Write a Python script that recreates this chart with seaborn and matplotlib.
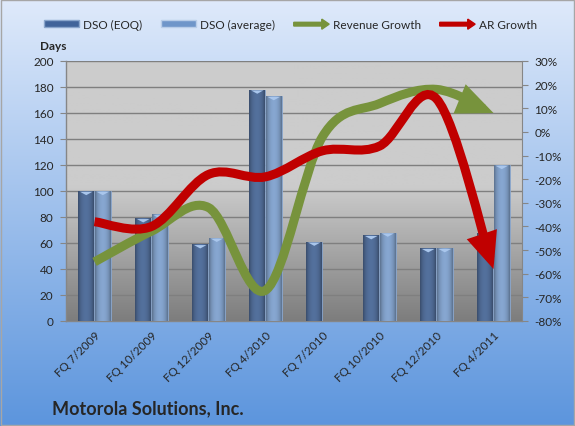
import numpy as np
import pandas as pd
import matplotlib
matplotlib.use("Agg")
import matplotlib.pyplot as plt
import matplotlib.patches as mpatches
from matplotlib.path import Path
from matplotlib.legend_handler import HandlerPatch
from matplotlib.ticker import FixedLocator
from matplotlib.colors import to_rgb
import seaborn as sns

# ---------------- data ----------------
categories = ["FQ 7/2009", "FQ 10/2009", "FQ 12/2009", "FQ 4/2010",
              "FQ 7/2010", "FQ 10/2010", "FQ 12/2010", "FQ 4/2011"]
dso_eoq = [100, 79, 59, 178, 61, 66, 56, 68]
dso_avg = [100, 82, 64, 173, np.nan, 68, 56, 120]
revenue_growth = [-55, -42, -32, -67, -2, 12, 18, 8]
ar_growth = [-38, -40, -18, -19, -8, -6, 14, -58]
left_ticks = list(range(0, 201, 20))
right_ticks = list(range(-80, 31, 10))

# ---------------- style ----------------
sns.set_style("white")
plt.rcParams["font.family"] = ["Lato", "DejaVu Sans"]

DARK = "#41649a"
LIGHT = "#6f96c9"
GREEN = "#77933c"
RED = "#c00000"

fig = plt.figure(figsize=(5.75, 4.27), dpi=100)

# figure background gradient
bg = fig.add_axes([0, 0, 1, 1], zorder=-10)
grad = np.linspace(0, 1, 256).reshape(-1, 1)
top = np.array([0xdf, 0xea, 0xfb]) / 255
bot = np.array([0x5c, 0x95, 0xdd]) / 255
img = top[None, None, :] * (1 - grad[..., None]) + bot[None, None, :] * grad[..., None]
bg.imshow(img, extent=[0, 1, 0, 1], aspect="auto", origin="upper")
bg.set_xlim(0, 1); bg.set_ylim(0, 1)
bg.axis("off")
bg.add_patch(mpatches.Rectangle((0.001, 0.003), 0.997, 0.995, fill=False,
                                edgecolor="#a6a6a6", lw=1.0, transform=bg.transAxes))

ax = fig.add_axes([66 / 575, 1 - 322 / 427, (522 - 66) / 575, (322 - 62) / 427])

# plot area gray gradient
g = np.linspace(0, 1, 256)
shade = np.where(g < 0.48, 0.80, 0.80 - (g - 0.48) / 0.52 * 0.31)
pimg = np.repeat(shade[:, None, None], 3, axis=2)
ax.imshow(pimg, extent=[0, 1, 0, 1], transform=ax.transAxes, aspect="auto",
          origin="upper", zorder=0)

df = pd.DataFrame({
    "cat": categories * 2,
    "DSO": dso_eoq + dso_avg,
    "series": ["DSO (EOQ)"] * len(categories) + ["DSO (average)"] * len(categories),
})
sns.barplot(data=df, x="cat", y="DSO", hue="series", palette=[DARK, LIGHT],
            width=0.58, gap=0.06, ax=ax, legend=False, errorbar=None,
            edgecolor="#8aa6cc", linewidth=0.6, zorder=3)

# soft horizontal shading on each bar (cosmetic)
xg = np.linspace(0, 1, 64)
prof = 0.78 + 0.32 * np.sin(np.pi * np.clip(xg * 1.1 - 0.05, 0, 1)) ** 0.6
for bar in list(ax.patches):
    h = bar.get_height()
    if not np.isfinite(h) or h <= 0:
        continue
    base = np.array(to_rgb(bar.get_facecolor()))
    cols = np.clip(base[None, :] * prof[:, None], 0, 1)[None, :, :]
    x0 = bar.get_x(); w = bar.get_width()
    im = ax.imshow(cols, extent=[x0, x0 + w, 0, h], aspect="auto",
                   zorder=3.5, origin="lower")
    im.set_clip_path(bar)
    # bevel highlight at top
    ax.fill([x0 + w * 0.1, x0 + w * 0.9, x0 + w * 0.5],
            [h - 0.6, h - 0.6, h - 3.2], color="#a9c6ec", zorder=3.6, lw=0)

ax.set_xlim(-0.5, len(categories) - 0.5)
ax.set_ylim(0, 200)
ax.set_yticks(left_ticks)
ax.set_yticklabels([str(t) for t in left_ticks], fontsize=8.5)
ax.yaxis.grid(True, color="#7f7f7f", lw=1.0, zorder=1)
ax.set_axisbelow(True)
ax.set_xlabel("")
ax.set_ylabel("")
ax.set_xticks(range(len(categories)))
ax.set_xticklabels(categories, rotation=45, ha="right", rotation_mode="anchor",
                   fontsize=8.5)
ax.tick_params(axis="x", which="major", length=0, pad=6)
ax.xaxis.set_minor_locator(FixedLocator(np.arange(-0.5, len(categories), 1.0)))
ax.tick_params(axis="x", which="minor", length=4, color="#868686", direction="out")
ax.tick_params(axis="y", length=4, color="#868686", direction="out", pad=5)
for s in ["top", "right"]:
    ax.spines[s].set_visible(False)
for s in ["left", "bottom"]:
    ax.spines[s].set_color("#868686")
    ax.spines[s].set_linewidth(1.0)

# twin axis for growth lines
ax2 = ax.twinx()
ax2.set_ylim(-80, 30)
ax2.set_yticks(right_ticks)
ax2.set_yticklabels([f"{t}%" for t in right_ticks], fontsize=8.5)
ax2.tick_params(axis="y", length=4, color="#868686", direction="out", pad=5)
ax2.grid(False)
ax2.patch.set_visible(False)
for s in ["top", "left", "bottom"]:
    ax2.spines[s].set_visible(False)
ax2.spines["right"].set_color("#868686")


def smooth_path(xs, ys):
    pts = np.column_stack([xs, ys]).astype(float)
    n = len(pts)
    verts = [pts[0]]
    codes = [Path.MOVETO]
    for i in range(n - 1):
        p0 = pts[i - 1] if i > 0 else pts[i]
        p1, p2 = pts[i], pts[i + 1]
        p3 = pts[i + 2] if i + 2 < n else pts[i + 1]
        verts += [p1 + (p2 - p0) / 6, p2 - (p3 - p1) / 6, p2]
        codes += [Path.CURVE4] * 3
    return Path(verts, codes)


xs = np.arange(len(categories))
for ys, col, z in [(revenue_growth, GREEN, 5), (ar_growth, RED, 6)]:
    arr = mpatches.FancyArrowPatch(
        path=smooth_path(xs, ys),
        arrowstyle=mpatches.ArrowStyle("-|>", head_length=15, head_width=6.5),
        mutation_scale=1, lw=6.5, color=col, shrinkA=0, shrinkB=0,
        joinstyle="miter", capstyle="butt", zorder=z,
        transform=ax2.transData)
    ax2.add_patch(arr)

# legend
def make_arrow(legend, orig_handle, xdescent, ydescent, width, height, fontsize):
    return mpatches.FancyArrow(0, height / 2, width, 0, width=height * 0.55,
                               head_width=height * 1.5, head_length=height * 1.1,
                               length_includes_head=True)


h1 = mpatches.Patch(facecolor=DARK, edgecolor="#8aa6cc", label="DSO (EOQ)")
h2 = mpatches.Patch(facecolor=LIGHT, edgecolor="#b8cde8", label="DSO (average)")
h3 = mpatches.Patch(color=GREEN, label="Revenue Growth")
h4 = mpatches.Patch(color=RED, label="AR Growth")
fig.legend(handles=[h1, h2, h3, h4],
           handler_map={h3: HandlerPatch(patch_func=make_arrow),
                        h4: HandlerPatch(patch_func=make_arrow)},
           loc="center", bbox_to_anchor=(0.505, 1 - 25 / 427), ncol=4,
           frameon=False, fontsize=8.5, handlelength=3.0, handleheight=0.5,
           columnspacing=1.6, handletextpad=0.3)

fig.text(40 / 575, 1 - 47 / 427, "Days", fontsize=8.5, fontweight="bold",
         ha="left", va="center")
fig.text(52 / 575, 1 - 409 / 427, "Motorola Solutions, Inc.", fontsize=13,
         fontweight="bold", ha="left", va="center")

fig.savefig("out.png", dpi=100)
